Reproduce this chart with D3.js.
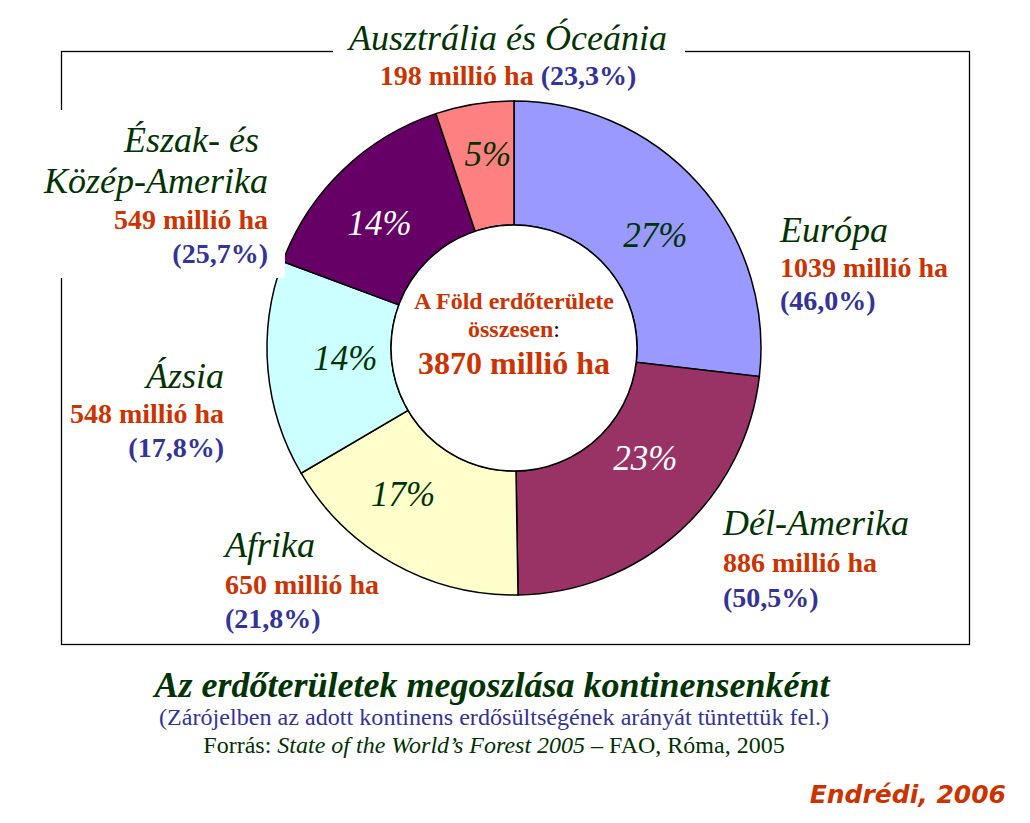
<!DOCTYPE html>
<html><head><meta charset="utf-8">
<script src="https://cdn.jsdelivr.net/npm/d3@7"></script>
<style>body{margin:0;background:#fff}svg{display:block}</style>
</head><body>
<svg id="c" width="1030" height="823"></svg>
<script>
const continents = ["Európa","Dél-Amerika","Afrika","Ázsia","Észak- és Közép-Amerika","Ausztrália és Óceánia"];
const areaMha = [1039, 886, 650, 548, 549, 198];
const forestCover = ["46,0%","50,5%","21,8%","17,8%","25,7%","23,3%"];
const sliceColors = ["#9999FF","#993366","#FFFFCC","#CCFFFF","#660066","#FF8080"];
const pctTextColors = ["#003300","#ffffff","#003300","#003300","#ffffff","#003300"];
const totalMha = 3870;
// label placement tweaks (degrees of angular shift, label radius)
const labelShift = [3, -8, 8, 1.5, -3, 1.5];
const labelRadius = [181, 171, 183, 169, 184, 196];

const svg = d3.select("#c");
const serif = "Liberation Serif, Times New Roman, serif";
const green = "#003300", red = "#CC3300", blue = "#333399";
const cx = 514, cy = 348, R = 247, r0 = 123;

// frame
svg.append("rect").attr("x",61.5).attr("y",51.5).attr("width",908).attr("height",593)
  .attr("fill","none").attr("stroke","#000").attr("stroke-width",1.3);

const pie = d3.pie().sort(null).value(d=>d);
const arcs = pie(areaMha);
const arc = d3.arc().innerRadius(r0).outerRadius(R);
const g = svg.append("g").attr("transform",`translate(${cx},${cy})`);
g.selectAll("path.s").data(arcs).join("path").attr("class","s")
  .attr("d",arc).attr("fill",(d,i)=>sliceColors[i]).attr("stroke","#000").attr("stroke-width",1.5);
g.append("circle").attr("r",r0).attr("fill","#fff").attr("stroke","#000").attr("stroke-width",1.5);

const total = d3.sum(areaMha);
g.selectAll("text.p").data(arcs).join("text").attr("class","p")
  .attr("transform",(d,i)=>{
    const a = (d.startAngle+d.endAngle)/2 + labelShift[i]*Math.PI/180;
    const rr = labelRadius[i];
    return `translate(${rr*Math.sin(a)},${-rr*Math.cos(a)})`;
  })
  .attr("text-anchor","middle").attr("dy","0.35em")
  .attr("font-family",serif).attr("font-style","italic").attr("font-size",35)
  .attr("fill",(d,i)=>pctTextColors[i])
  .text(d=>Math.round(d.value/total*100)+"%");

// centre text
const ct = svg.append("g").attr("font-family",serif).attr("font-weight","bold").attr("text-anchor","middle").attr("fill",red);
ct.append("text").attr("x",cx).attr("y",309).attr("font-size",24).text("A Föld erdőterülete");
const t2 = ct.append("text").attr("x",cx).attr("y",337).attr("font-size",24);
t2.append("tspan").text("összesen");
t2.append("tspan").attr("fill","#000").attr("font-weight","normal").text(":");
ct.append("text").attr("x",cx).attr("y",374).attr("font-size",32).text(totalMha+" millió ha");

// outer labels
function block(x, anchor, lines, bg){
  const gg = svg.append("g");
  if(bg){ gg.append("rect").attr("x",bg[0]).attr("y",bg[1]).attr("width",bg[2]).attr("height",bg[3]).attr("fill","#fff"); }
  lines.forEach(l=>{
    const t = gg.append("text").attr("x",x).attr("y",l.y).attr("text-anchor",anchor).attr("font-family",serif);
    l.parts.forEach(p=>{
      t.append("tspan").text(p.t).attr("fill",p.c).attr("font-size",p.s)
        .attr("font-style",p.i?"italic":"normal").attr("font-weight",p.b?"bold":"normal");
    });
  });
}
const nm = (t)=>({t, c:green, s:36, i:true});
const val = (v)=>({t:v+" millió ha", c:red, s:28, b:true});
const pc = (p)=>({t:"("+p+")", c:blue, s:28, b:true});

// Australia (title on frame)
block(508,"middle",[
  {y:50, parts:[nm(continents[5])]},
  {y:85, parts:[val(areaMha[5]), {t:" ",c:red,s:28,b:true}, pc(forestCover[5])]}
],[333,18,352,50]);
// Europe
block(780,"start",[
  {y:242, parts:[nm(continents[0])]},
  {y:277, parts:[val(areaMha[0])]},
  {y:310, parts:[pc(forestCover[0])]}
]);
// South America
block(723,"start",[
  {y:535, parts:[nm(continents[1])]},
  {y:572, parts:[val(areaMha[1])]},
  {y:607, parts:[pc(forestCover[1])]}
]);
// Africa
block(225,"start",[
  {y:557, parts:[nm(continents[2])]},
  {y:594, parts:[val(areaMha[2])]},
  {y:628, parts:[pc(forestCover[2])]}
]);
// Asia
block(224,"end",[
  {y:388, parts:[nm(continents[3])]},
  {y:423, parts:[val(areaMha[3])]},
  {y:457, parts:[pc(forestCover[3])]}
]);
// North & Central America
const na = continents[4].split(" Közép");
block(268,"end",[
  {y:152, parts:[nm(na[0]+"\u00a0")]},
  {y:193, parts:[nm("Közép"+na[1])]},
  {y:229, parts:[val(areaMha[4])]},
  {y:263, parts:[pc(forestCover[4])]}
],[55,110,230,168]);

// bottom texts
svg.append("text").attr("x",492).attr("y",697).attr("text-anchor","middle")
  .attr("font-family",serif).attr("font-weight","bold").attr("font-style","italic")
  .attr("font-size",36).attr("fill",green).text("Az erdőterületek megoszlása kontinensenként");
svg.append("text").attr("x",494).attr("y",725).attr("text-anchor","middle")
  .attr("font-family",serif).attr("font-size",23).attr("fill",blue)
  .attr("textLength",670).attr("lengthAdjust","spacingAndGlyphs")
  .text("(Zárójelben az adott kontinens erdősültségének arányát tüntettük fel.)");
const src = svg.append("text").attr("x",494).attr("y",753).attr("text-anchor","middle")
  .attr("font-family",serif).attr("font-size",24).attr("fill",green);
src.append("tspan").text("Forrás: ");
src.append("tspan").attr("font-style","italic").text("State of the World’s Forest 2005");
src.append("tspan").text(" – FAO, Róma, 2005");

svg.append("text").attr("x",1006).attr("y",803).attr("text-anchor","end")
  .attr("font-family","Comic Sans MS, DejaVu Sans, sans-serif").attr("font-weight","bold").attr("font-style","italic")
  .attr("font-size",25).attr("fill",red).text("Endrédi, 2006");
</script>
</body></html>
